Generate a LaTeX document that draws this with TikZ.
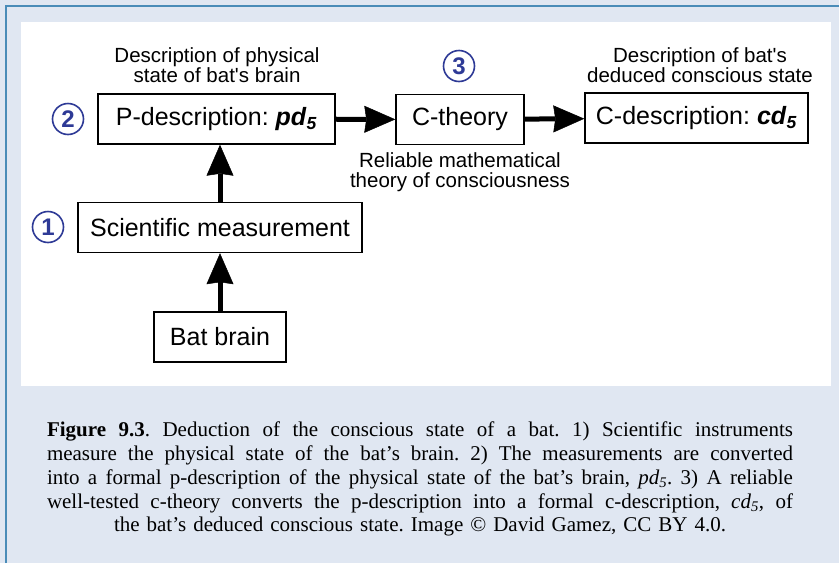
\documentclass[tikz,border=0pt]{standalone}
\usepackage{fontspec}
\setmainfont{Liberation Serif}
\newfontfamily\labelfont{Liberation Sans}[Ligatures=TeXOff]
\usepackage{xcolor}
\usetikzlibrary{arrows.meta,positioning}
\frenchspacing

\definecolor{pagebg}{RGB}{224,231,242}
\definecolor{framecol}{RGB}{74,140,184}
\definecolor{numcol}{RGB}{46,58,150}

\newcommand{\boldsub}[2]{\textbf{\textit{#1}}\textsubscript{\textbf{\textit{#2}}}}
\newcommand{\itsub}[2]{\textit{#1}\textsubscript{\textit{#2}}}

\begin{document}
\begin{tikzpicture}[x=1pt,y=-1pt,
    box/.style={draw, line width=1.4pt, fill=white, minimum height=50pt, inner sep=0pt,
        font=\labelfont\fontsize{25}{30}\selectfont},
    note/.style={align=center, inner sep=0pt, font=\labelfont\fontsize{20.5}{20}\selectfont},
    num/.style={circle, draw=numcol, line width=1.6pt, minimum size=31pt, inner sep=0pt,
        text=numcol, font=\labelfont\bfseries\fontsize{24}{24}\selectfont},
    arr/.style={line width=5pt, -{Stealth[length=31pt,width=27pt,inset=2pt,line width=0.5pt]}},
    caption/.style={text width=746pt, inner sep=0pt, font=\fontsize{21}{24}\selectfont}]
    \useasboundingbox (0,0) rectangle (839,563);
    \fill [pagebg] (0,0) rectangle (839,563);
    \draw [framecol, line width=1.5pt] (6,563) -- (6,6) -- (839,6);
    \fill [white] (21,22) rectangle (831,386);

    % Boxes
    \node [box, minimum width=237pt] (pdesc) at (216.5,119) {P-description: \boldsub{pd}{5}};
    \node [box, minimum width=128pt] (ctheory) at (460,119.5) {C-theory};
    \node [box, minimum width=223pt] (cdesc) at (696.5,118) {C-description: \boldsub{cd}{5}};
    \node [box, minimum width=284pt] (sci) at (220,227.5) {Scientific measurement};
    \node [box, minimum width=132pt] (bat) at (220,337) {Bat brain};

    % Notes
    \node [note] (pnote) at (217,65) {Description of physical\\state of bat's brain};
    \node [note] (cnote) at (700,65) {Description of bat's\\deduced conscious state};
    \node [note] (tnote) at (460,172) {Reliable mathematical\\theory of consciousness};

    % Step numbers
    \foreach \n/\x/\y in {1/48/227, 2/68/119, 3/459/66}
        \node [num] (num\n) at (\x,\y) {\n};

    % Arrows
    \draw [arr] (bat) -- (sci);
    \draw [arr] (sci.north) -- (sci.north |- pdesc.south);
    \draw [arr] (pdesc) -- (ctheory);
    \draw [arr] (ctheory) -- (cdesc);

    % Caption
    \node [caption, align=justify] (cap) at (420,467) {\parfillskip=0pt
        \textbf{Figure 9.3}. Deduction of the conscious state of a bat. 1) Scientific instruments\linebreak
        measure the physical state of the bat's brain. 2) The measurements are converted\linebreak
        into a formal p-description of the physical state of the bat's brain, \itsub{pd}{5}. 3) A reliable\linebreak
        well-tested c-theory converts the p-description into a formal c-description, \itsub{cd}{5}, of\par};
    \node [caption, align=center] (capend) at (420,526)
        {the bat's deduced conscious state. Image \textcopyright\ David Gamez, CC BY 4.0.};
\end{tikzpicture}
\end{document}
